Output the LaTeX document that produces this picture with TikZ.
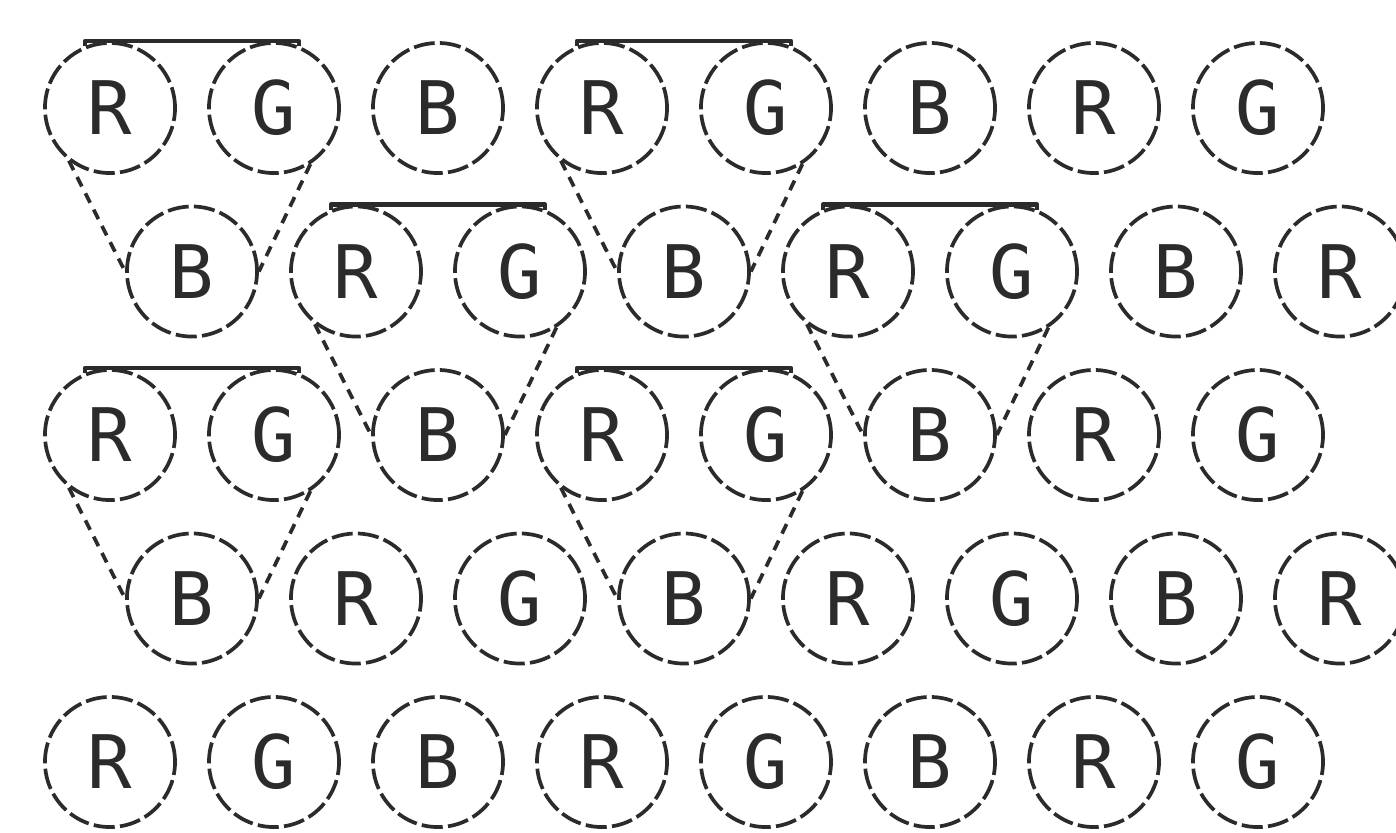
\documentclass[tikz,border=0pt]{standalone}
\usepackage{fontspec}
\setmonofont{DejaVu Sans Mono}
\usetikzlibrary{calc}
\definecolor{dotInk}{HTML}{2B2B2B}
\tikzset{
  phosphor/.style={circle, draw=dotInk, line width=1.05pt,
    dash pattern=on 6pt off 1.5pt, minimum size=1.3cm, inner sep=0pt,
    text=dotInk, font=\ttfamily\fontsize{21}{21}\selectfont},
  triad top/.style={dotInk, line width=1.3pt, line join=round},
  triad side/.style={dotInk, line width=1.05pt, dash pattern=on 3pt off 2.2pt},
}

\begin{document}
\begin{tikzpicture}[x=0.01cm, y=-0.01cm]
  % Frame (the rightmost column runs off the edge)
  \clip (0,0) rectangle (1396,832);

  % ---- Phosphor dots, rows alternate by half a pitch ----
  \foreach \row/\ypos/\xoff/\seq in {1/108/0/{R,G,B,R,G,B,R,G},
                                     2/271.5/82/{B,R,G,B,R,G,B,R},
                                     3/435/0/{R,G,B,R,G,B,R,G},
                                     4/598.5/82/{B,R,G,B,R,G,B,R},
                                     5/762/0/{R,G,B,R,G,B,R,G}} {
    \foreach \lt [count=\c from 0] in \seq {
      \pgfmathsetmacro\xpos{110+\xoff+164*\c}
      \node[phosphor] (p-\row-\c) at (\xpos,\ypos) {\lt};
    }
  }

  % ---- Triads: R and G on top, B below ----
  \foreach \r/\g/\b in {1-0/1-1/2-0, 1-3/1-4/2-3,
                        2-1/2-2/3-2, 2-4/2-5/3-5,
                        3-0/3-1/4-0, 3-3/3-4/4-3} {
    \draw[triad top] (p-\r.112) -- (p-\r.112 |- p-\r.north)
      -- (p-\g.68 |- p-\g.north) -- (p-\g.68);
    \draw[triad side] (p-\r.232) -- (p-\b.west);
    \draw[triad side] (p-\g.303) -- (p-\b.east);
  }
\end{tikzpicture}
\end{document}
